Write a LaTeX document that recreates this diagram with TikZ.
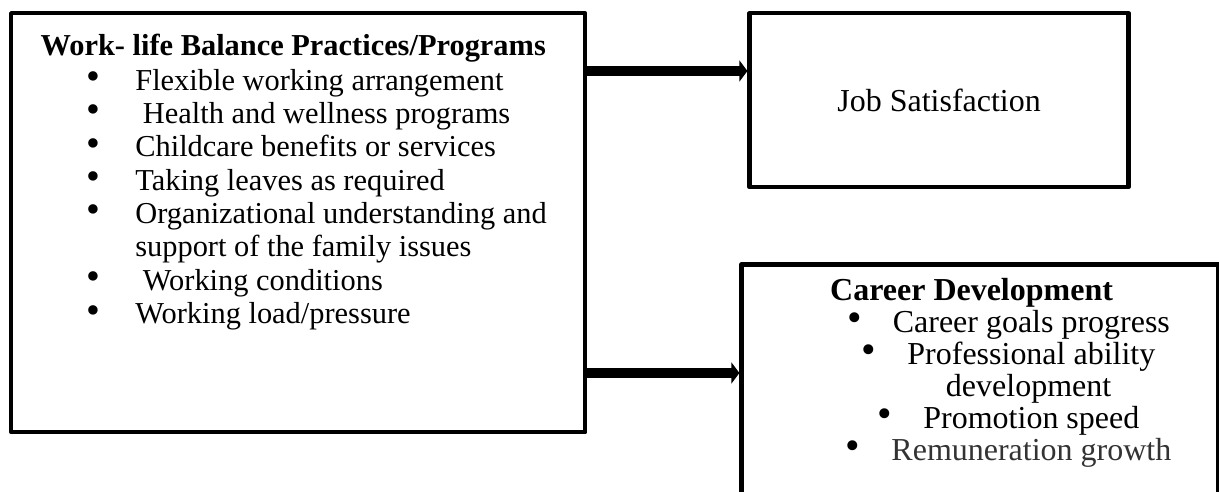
\documentclass[tikz,border=0pt]{standalone}
\usepackage{fontspec}
\usepackage{graphicx}
\setmainfont{Liberation Serif}
\usetikzlibrary{arrows.meta, positioning}

\newcommand{\bodysize}{\fontsize{17.3pt}{19pt}\selectfont}
\newcommand{\widesize}{\fontsize{18.2pt}{18.2pt}\selectfont}
\newcommand{\bul}{\raisebox{0.02em}{\scalebox{1.3}{\textbullet}}}

\begin{document}
\begin{tikzpicture}[
    node distance=1.0cm and 1.0cm,
    frame/.style={
        rectangle,
        draw=black,
        line width=2.5pt,
        line join=round,
        inner sep=0pt,
        font=\widesize
    },
    headtext/.style={
        inner sep=0pt,
        font=\bodysize\bfseries
    },
    listtext/.style={
        inner sep=0pt,
        font=\bodysize
    },
    arrow/.style={
        -{Triangle[length=0.16cm, width=0.42cm]},
        line width=5.5pt,
        draw=black
    }
]

\useasboundingbox (0,0) rectangle (24.38,-9.84);
\clip (0,0) rectangle (24.38,-9.84);

% Boxes
\node[frame, minimum width=11.48cm, minimum height=8.38cm, anchor=north west] (lwb) at (0.18,-0.22) {};

\node[frame, minimum width=7.58cm, minimum height=3.48cm, right=3.2cm of lwb.north east, anchor=north west] (job) {Job Satisfaction};

\node[frame, minimum width=9.54cm, minimum height=6cm, below=1.46cm of job.south west, xshift=-0.16cm, anchor=north west] (car) {};

% Work-life balance contents
\node[headtext, below=0.88cm of lwb.north, xshift=-0.1cm, anchor=base] (lwtitle) {Work- life Balance Practices/Programs};

\node[listtext, below right=1.58cm and 2.52cm of lwb.north west, anchor=base west] (lwlist) {%
    \begin{tabular}[t]{@{}l@{}}
    \llap{\bul\hspace{0.70cm}}Flexible working arrangement\\
    \llap{\bul\hspace{0.70cm}}\ Health and wellness programs\\
    \llap{\bul\hspace{0.70cm}}Childcare benefits or services\\
    \llap{\bul\hspace{0.70cm}}Taking leaves as required\\
    \llap{\bul\hspace{0.70cm}}Organizational understanding and\\
    support of the family issues\\
    \llap{\bul\hspace{0.70cm}}\ Working conditions\\
    \llap{\bul\hspace{0.70cm}}Working load/pressure
    \end{tabular}};

% Career development contents
\node[headtext, font=\widesize\bfseries, below=0.76cm of car.north, xshift=-0.17cm, anchor=base] (cartitle) {Career Development};

\node[listtext, font=\widesize, below=1.40cm of car.north, xshift=0.57cm, anchor=base] (carlist) {%
    \begin{tabular}[t]{@{}c@{}}
    \bul\hspace{0.62cm}Career goals progress\\
    \bul\hspace{0.62cm}Professional ability\\
    \hspace*{0.8cm}development\\
    \bul\hspace{0.62cm}Promotion speed\\
    \bul\hspace{0.62cm}{\color{black!80}Remuneration growth}
    \end{tabular}};

% Arrows
\coordinate[below=1.20cm of lwb.north east] (jobin);
\coordinate[below=7.24cm of lwb.north east] (carin);
\draw[arrow] (jobin) -- (jobin -| job.west);
\draw[arrow] (carin) -- (carin -| car.west);

\end{tikzpicture}
\end{document}
